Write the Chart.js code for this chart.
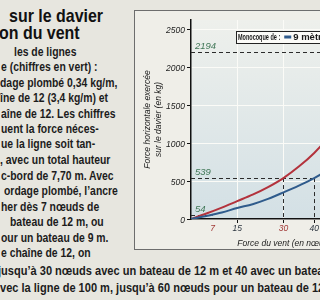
<!DOCTYPE html>
<html>
<head>
<meta charset="utf-8">
<script src="https://cdn.jsdelivr.net/npm/chart.js@4"></script>
<style>
  html, body { margin: 0; padding: 0; }
  body {
    width: 320px; height: 300px; overflow: hidden; position: relative;
    background: #e7e6df;
    font-family: "Liberation Sans", Arial, sans-serif;
    color: #1c1c1c;
  }
  .t {
    position: absolute; white-space: nowrap; font-weight: bold;
    transform: scaleX(0.8); transform-origin: 0 0;
  }
  .h { font-size: 19px; line-height: 18px; transform: scaleX(0.84); color: #111; }
  .p { font-size: 13px; line-height: 15px; }
  .w { transform: scaleX(0.85); }
  #box {
    position: absolute; left: 134px; top: 10px; width: 240px; height: 238px;
    border: 1px solid #6d6d6d; background: #efeee8;
  }
  #box canvas { position: absolute; left: 0; top: 0; }
</style>
</head>
<body>
<div class="t h" style="left:9px;top:7px">sur le davier</div>
<div class="t h" style="left:-1px;top:24px">on du vent</div>

<div class="t p" style="left:14px;top:44px">les de lignes</div>
<div class="t p" style="left:1px;top:59px">e (chiffres en vert) :</div>
<div class="t p" style="left:0px;top:75px">dage plombé 0,34 kg/m,</div>
<div class="t p" style="left:0px;top:90px">îne de 12 (3,4 kg/m) et</div>
<div class="t p" style="left:1px;top:106px">aîne de 12. Les chiffres</div>
<div class="t p" style="left:1px;top:121px">uent la force néces-</div>
<div class="t p" style="left:1px;top:136px">ue la ligne soit tan-</div>
<div class="t p" style="left:0px;top:152px">, avec un total hauteur</div>
<div class="t p" style="left:1px;top:168px">c-bord de 7,70 m. Avec</div>
<div class="t p" style="left:4px;top:183px">ordage plombé, l’ancre</div>
<div class="t p" style="left:1px;top:199px">her dès 7 nœuds de</div>
<div class="t p" style="left:10px;top:214px">bateau de 12 m, ou</div>
<div class="t p" style="left:1px;top:230px">our un bateau de 9 m.</div>
<div class="t p" style="left:1px;top:245px">e chaîne de 12, on</div>
<div class="t p w" style="left:-2px;top:263px">jusqu’à 30 nœuds avec un bateau de 12 m et 40 avec un bateau de 9 m</div>
<div class="t p w" style="left:0px;top:280px">vec la ligne de 100 m, jusqu’à 60 nœuds pour un bateau de 12 m</div>

<div id="box"><canvas id="chart" width="260" height="238"></canvas></div>

<script>
// wind speed (knots) and horizontal force on the bow roller (kg)
const knots = [0, 5, 10, 15, 20, 25, 30, 35, 40, 45, 50, 55, 60];
const force9m = [0, 40, 85, 145, 195, 265, 350, 440, 539, 660, 820, 1020, 1260];
const force12m = [0, 72, 150, 235, 320, 420, 539, 690, 870, 1090, 1360, 1720, 2194];
const seriesNames = ["9 mètres", "12 mètres"];
const seriesColors = ["#2f5b8c", "#b3323c"];

const xTicks = [7, 15, 30, 40, 60];
const yTicks = [0, 500, 1000, 1500, 2000, 2500];

// dashed reference levels (green labels) and where they stop
const refForces = [54, 539, 2194];
const refKnots = [7, 40, 60];
// dashed drops down to the wind axis
const dropKnots = [30, 40, 60];
const dropForces = [539, 539, 2194];

const redTicks = [7, 30];
const gridKnots = [15, 30, 45, 60];

const sans = '"Liberation Sans", Arial, sans-serif';

const plotBg = {
  id: "plotBg",
  beforeDraw(chart) {
    const { ctx, chartArea: a } = chart;
    const g = ctx.createLinearGradient(0, a.top, 0, a.bottom);
    g.addColorStop(0, "#eef0ec");
    g.addColorStop(1, "#d3e0e5");
    ctx.save();
    ctx.fillStyle = g;
    ctx.fillRect(a.left, a.top, a.right - a.left, a.bottom - a.top);
    ctx.restore();
  },
};

const refLines = {
  id: "refLines",
  beforeDatasetsDraw(chart) {
    const { ctx, chartArea: a } = chart;
    const x = chart.scales.x;
    const y = chart.scales.y;
    ctx.save();
    ctx.strokeStyle = "#2b2b2b";
    ctx.lineWidth = 1;
    ctx.setLineDash([4, 3]);
    refForces.forEach((f, i) => {
      const py = Math.round(y.getPixelForValue(f)) + 0.5;
      ctx.beginPath();
      ctx.moveTo(a.left, py);
      ctx.lineTo(x.getPixelForValue(refKnots[i]), py);
      ctx.stroke();
    });
    dropKnots.forEach((k, i) => {
      const px = Math.round(x.getPixelForValue(k)) + 0.5;
      ctx.beginPath();
      ctx.moveTo(px, y.getPixelForValue(dropForces[i]));
      ctx.lineTo(px, a.bottom);
      ctx.stroke();
    });
    ctx.setLineDash([]);
    ctx.fillStyle = "#3f7656";
    ctx.font = "italic 9.5px " + sans;
    ctx.textBaseline = "bottom";
    refForces.forEach((f) => {
      ctx.fillText(String(f), a.left + 4, y.getPixelForValue(f) - 1);
    });
    ctx.restore();
  },
};

// "Monocoque de :" title is squeezed hard in the original
const boxLegend = {
  id: "boxLegend",
  afterDraw(chart) {
    const { ctx } = chart;
    const left = 101, top = 20, h = 12, squeeze = 0.58;
    const title = "Monocoque de :";
    ctx.save();
    ctx.font = "bold 9.5px " + sans;
    ctx.textBaseline = "middle";
    const titleW = ctx.measureText(title).width * squeeze;
    let w = titleW + 8;
    seriesNames.forEach((n) => (w += 10 + ctx.measureText(n).width + 8));
    ctx.fillStyle = "#fbfbf8";
    ctx.fillRect(left, top, w, h);
    ctx.strokeStyle = "#222";
    ctx.lineWidth = 1;
    ctx.strokeRect(left + 0.5, top + 0.5, w, h);
    ctx.fillStyle = "#1a1a1a";
    ctx.save();
    ctx.translate(left + 2, top + h / 2 + 0.5);
    ctx.scale(squeeze, 1);
    ctx.fillText(title, 0, 0);
    ctx.restore();
    let cx = left + 2 + titleW + 4;
    seriesNames.forEach((n, i) => {
      ctx.fillStyle = seriesColors[i];
      ctx.fillRect(cx, top + h / 2 - 1.5, 7, 3);
      cx += 9;
      ctx.fillStyle = "#1a1a1a";
      ctx.fillText(n, cx, top + h / 2 + 0.5);
      cx += ctx.measureText(n).width + 8;
    });
    ctx.restore();
  },
};

new Chart(document.getElementById("chart"), {
  type: "line",
  data: {
    datasets: [
      {
        label: seriesNames[0],
        data: knots.map((k, i) => ({ x: k, y: force9m[i] })),
        borderColor: seriesColors[0],
        borderWidth: 2,
        pointRadius: 0,
        cubicInterpolationMode: "monotone",
      },
      {
        label: seriesNames[1],
        data: knots.map((k, i) => ({ x: k, y: force12m[i] })),
        borderColor: seriesColors[1],
        borderWidth: 2,
        pointRadius: 0,
        cubicInterpolationMode: "monotone",
      },
    ],
  },
  options: {
    responsive: false,
    animation: false,
    layout: { padding: { top: 9, right: 13, left: 0, bottom: 0 } },
    plugins: { legend: { display: false }, tooltip: { enabled: false } },
    scales: {
      x: {
        type: "linear",
        min: 0,
        max: 62,
        afterBuildTicks: (scale) => {
          scale.ticks = xTicks.map((v) => ({ value: v }));
        },
        afterFit: (scale) => {
          scale.height = 30;
        },
        border: { color: "#111", width: 1.5 },
        grid: {
          color: (c) => (gridKnots.includes(c.tick && c.tick.value) ? "#fbfbf7" : "transparent"),
          tickColor: (c) => (c.tick && c.tick.value === 7 ? "transparent" : "#111"),
          tickLength: 4,
        },
        ticks: {
          autoSkip: false,
          maxRotation: 0,
          padding: 1,
          color: (c) => (redTicks.includes(c.tick.value) ? "#a23a37" : "#2d3640"),
          font: { family: sans, style: "italic", size: 8.5 },
          callback: (v) => String(v),
        },
        title: {
          display: true,
          text: "Force du vent (en nœuds)",
          color: "#1c1c1c",
          font: { family: sans, style: "italic", size: 8.5 },
          padding: { top: 3, bottom: 0 },
        },
      },
      y: {
        min: 0,
        max: 2620,
        afterBuildTicks: (scale) => {
          scale.ticks = yTicks.map((v) => ({ value: v }));
        },
        afterFit: (scale) => {
          scale.width = 56;
        },
        border: { color: "#111", width: 1.5 },
        grid: { color: "#fbfbf7", tickColor: "#111", tickLength: 4 },
        ticks: {
          padding: 2,
          labelOffset: 2,
          color: "#1c1c1c",
          font: { family: sans, style: "italic", size: 8.5 },
          callback: (v) => String(v),
        },
        title: {
          display: true,
          text: ["Force horizontale exercée", "sur le davier (en kg)"],
          color: "#1c1c1c",
          font: { family: sans, style: "italic", size: 8.5 },
          padding: { top: 8, bottom: 0 },
        },
      },
    },
  },
  plugins: [plotBg, refLines, boxLegend],
});
</script>
</body>
</html>
